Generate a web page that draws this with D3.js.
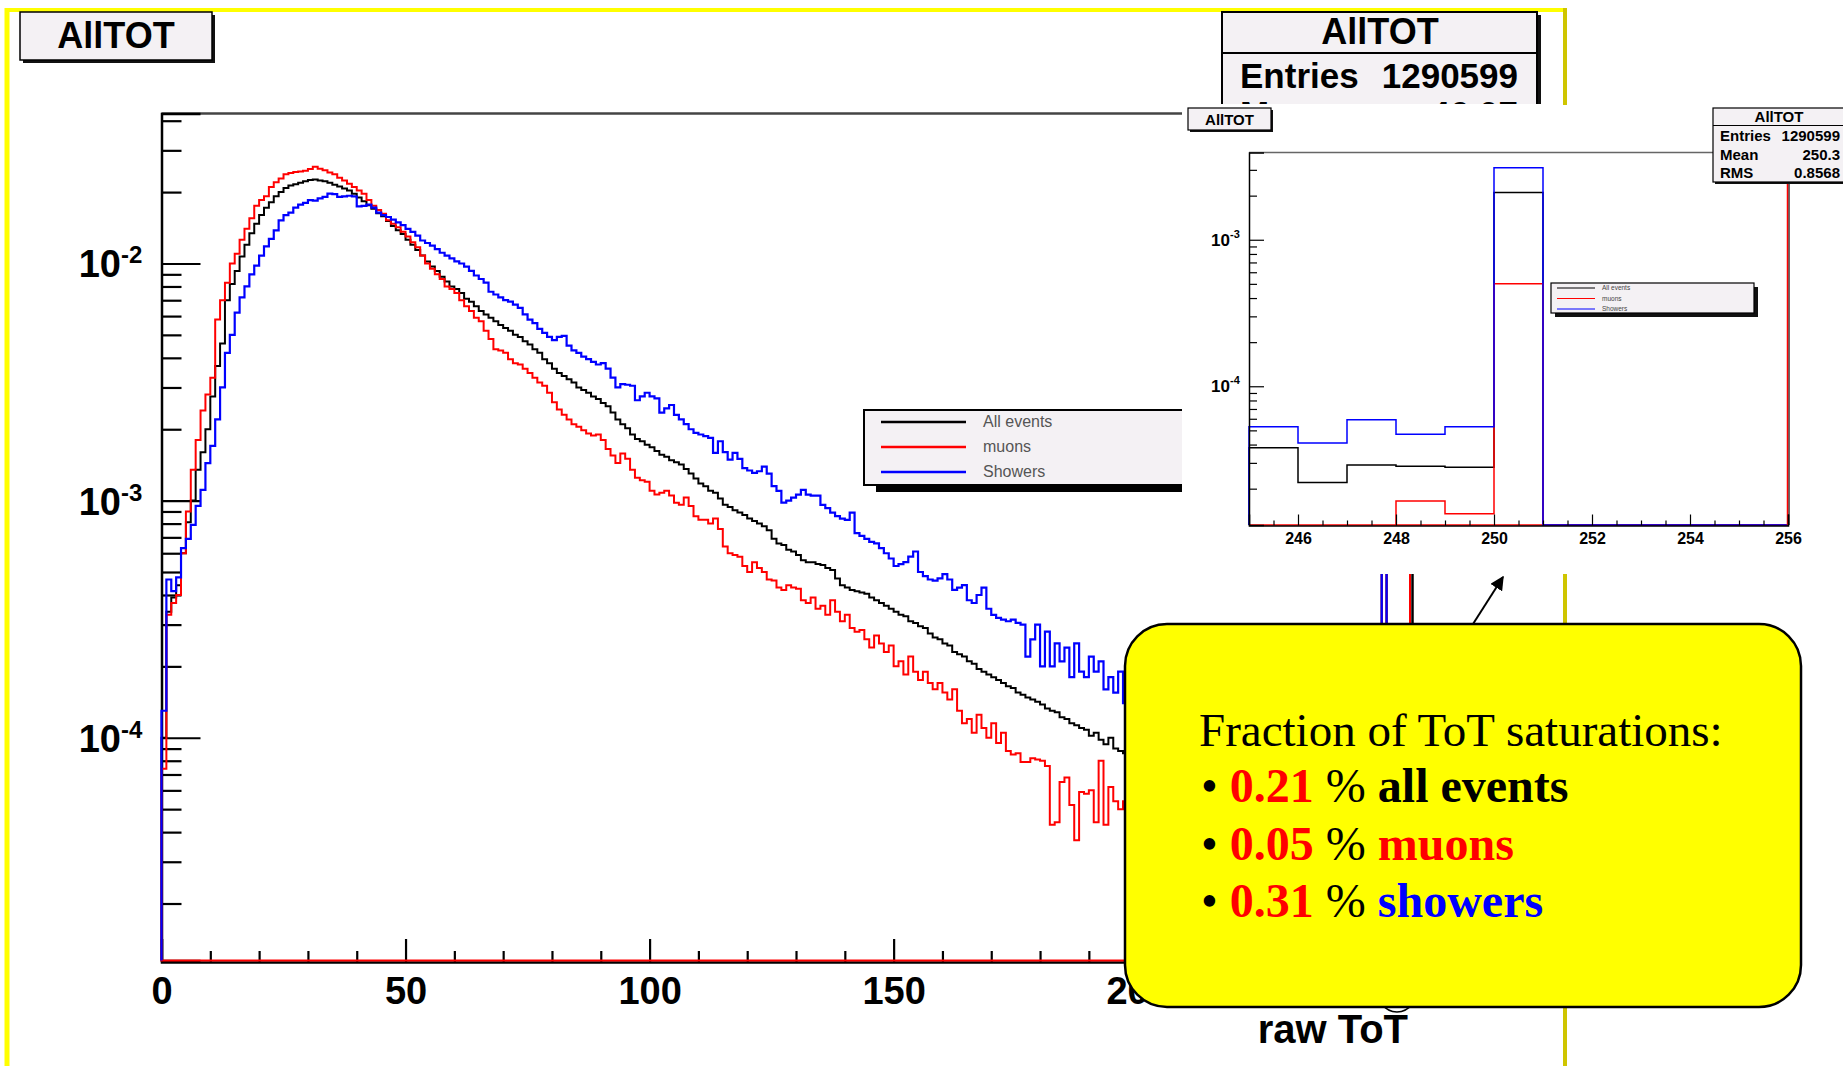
<!DOCTYPE html>
<html>
<head>
<meta charset="utf-8">
<title>AllTOT</title>
<script src="https://cdn.jsdelivr.net/npm/d3@7/dist/d3.min.js"></script>
<style>
  html, body { margin: 0; padding: 0; background: #fff; }
  svg { display: block; }
</style>
</head>
<body>
<svg id="chart" width="1843" height="1066"></svg>
<script>
// ---------------------------------------------------------------
// Normalised raw ToT spectra, one bin per ToT count (bins 0..255)
// ---------------------------------------------------------------
const allEvents = [
  1.0e-4, 3.4e-4, 3.9e-4, 4.4e-4, 6.0e-4, 8.1e-4, 1.0e-3, 1.35e-3, 1.6e-3, 2.0e-3,
  2.75e-3, 3.7e-3, 4.6e-3, 7.0e-3, 8.2e-3, 9.3e-3, 1.07e-2, 1.2e-2, 1.34e-2, 1.47e-2,
  1.6e-2, 1.72e-2, 1.81e-2, 1.92e-2, 2.0e-2, 2.08e-2, 2.13e-2, 2.16e-2, 2.19e-2, 2.22e-2,
  2.25e-2, 2.26e-2, 2.24e-2, 2.22e-2, 2.19e-2, 2.15e-2, 2.11e-2, 2.07e-2, 2.03e-2, 1.97e-2,
  1.9e-2, 1.83e-2, 1.76e-2, 1.7e-2, 1.63e-2, 1.58e-2, 1.51e-2, 1.44e-2, 1.38e-2, 1.33e-2,
  1.26e-2, 1.2e-2, 1.14e-2, 1.08e-2, 1.02e-2, 9.7e-3, 9.3e-3, 8.8e-3, 8.4e-3, 8.0e-3,
  7.8e-3, 7.5e-3, 7.1e-3, 6.9e-3, 6.6e-3, 6.3e-3, 6.1e-3, 5.9e-3, 5.7e-3, 5.5e-3,
  5.35e-3, 5.2e-3, 5.0e-3, 4.9e-3, 4.7e-3, 4.55e-3, 4.35e-3, 4.2e-3, 3.95e-3, 3.8e-3,
  3.6e-3, 3.45e-3, 3.35e-3, 3.25e-3, 3.15e-3, 3.0e-3, 2.93e-3, 2.85e-3, 2.75e-3, 2.68e-3,
  2.58e-3, 2.5e-3, 2.35e-3, 2.2e-3, 2.1e-3, 2.02e-3, 1.9e-3, 1.82e-3, 1.78e-3, 1.72e-3,
  1.68e-3, 1.62e-3, 1.56e-3, 1.53e-3, 1.48e-3, 1.45e-3, 1.42e-3, 1.36e-3, 1.3e-3, 1.24e-3,
  1.18e-3, 1.15e-3, 1.1e-3, 1.08e-3, 1.02e-3, 9.6e-4, 9.4e-4, 9.1e-4, 8.9e-4, 8.7e-4,
  8.4e-4, 8.2e-4, 8.0e-4, 7.8e-4, 7.5e-4, 6.9e-4, 6.6e-4, 6.5e-4, 6.2e-4, 6.1e-4,
  5.9e-4, 5.6e-4, 5.5e-4, 5.5e-4, 5.4e-4, 5.35e-4, 5.2e-4, 5.1e-4, 4.7e-4, 4.4e-4,
  4.3e-4, 4.2e-4, 4.15e-4, 4.1e-4, 4.05e-4, 3.9e-4, 3.8e-4, 3.7e-4, 3.6e-4, 3.5e-4,
  3.4e-4, 3.3e-4, 3.25e-4, 3.1e-4, 3.05e-4, 2.95e-4, 2.9e-4, 2.75e-4, 2.65e-4, 2.6e-4,
  2.5e-4, 2.45e-4, 2.3e-4, 2.25e-4, 2.2e-4, 2.1e-4, 2.05e-4, 1.95e-4, 1.9e-4, 1.85e-4,
  1.8e-4, 1.75e-4, 1.7e-4, 1.65e-4, 1.62e-4, 1.55e-4, 1.52e-4, 1.48e-4, 1.45e-4, 1.42e-4,
  1.38e-4, 1.33e-4, 1.3e-4, 1.28e-4, 1.22e-4, 1.2e-4, 1.15e-4, 1.13e-4, 1.1e-4, 1.08e-4,
  1.02e-4, 1.05e-4, 9.8e-5, 9.4e-5, 1.0e-4, 9.0e-5, 8.8e-5, 8.6e-5, 8.4e-5, 8.2e-5,
  8.0e-5, 7.9e-5, 7.6e-5, 7.5e-5, 7.3e-5, 7.0e-5, 6.9e-5, 6.8e-5, 6.5e-5, 6.4e-5,
  6.3e-5, 6.0e-5, 5.9e-5, 5.8e-5, 5.6e-5, 5.5e-5, 5.4e-5, 5.2e-5, 5.1e-5, 5.0e-5,
  4.9e-5, 4.8e-5, 4.7e-5, 4.6e-5, 4.5e-5, 4.4e-5, 4.4e-5, 4.2e-5, 4.2e-5, 4.1e-5,
  4.0e-5, 3.9e-5, 3.9e-5, 3.8e-5, 3.7e-5, 3.7e-5, 3.6e-5, 3.5e-5, 3.5e-5, 3.4e-5,
  3.4e-5, 3.3e-5, 3.2e-5, 3.2e-5, 3.1e-5, 3.8e-5, 2.2e-5, 2.9e-5, 2.85e-5, 2.8e-5,
  2.1e-3, 0, 0, 0, 0, 0
];

const muons = [
  7.4e-5, 3.3e-4, 3.7e-4, 4.0e-4, 6.0e-4, 9.0e-4, 1.35e-3, 1.8e-3, 2.4e-3, 2.8e-3,
  3.3e-3, 5.8e-3, 7.0e-3, 8.3e-3, 1.0e-2, 1.1e-2, 1.26e-2, 1.4e-2, 1.55e-2, 1.75e-2,
  1.85e-2, 1.92e-2, 2.1e-2, 2.2e-2, 2.28e-2, 2.38e-2, 2.41e-2, 2.43e-2, 2.44e-2, 2.46e-2,
  2.5e-2, 2.56e-2, 2.51e-2, 2.47e-2, 2.42e-2, 2.38e-2, 2.3e-2, 2.24e-2, 2.17e-2, 2.1e-2,
  2.03e-2, 1.97e-2, 1.85e-2, 1.75e-2, 1.68e-2, 1.62e-2, 1.52e-2, 1.47e-2, 1.42e-2, 1.36e-2,
  1.3e-2, 1.23e-2, 1.17e-2, 1.08e-2, 1.0e-2, 9.5e-3, 9.0e-3, 8.6e-3, 8.0e-3, 7.8e-3,
  7.5e-3, 7.0e-3, 6.6e-3, 6.3e-3, 5.9e-3, 5.7e-3, 5.2e-3, 4.8e-3, 4.35e-3, 4.3e-3,
  4.2e-3, 3.95e-3, 3.8e-3, 3.75e-3, 3.6e-3, 3.45e-3, 3.3e-3, 3.15e-3, 3.05e-3, 2.85e-3,
  2.6e-3, 2.42e-3, 2.3e-3, 2.2e-3, 2.1e-3, 2.05e-3, 1.98e-3, 1.92e-3, 1.88e-3, 1.9e-3,
  1.8e-3, 1.65e-3, 1.55e-3, 1.44e-3, 1.58e-3, 1.5e-3, 1.35e-3, 1.25e-3, 1.22e-3, 1.2e-3,
  1.1e-3, 1.06e-3, 1.08e-3, 1.1e-3, 1.05e-3, 9.8e-4, 9.6e-4, 1.03e-3, 9.5e-4, 8.6e-4,
  8.3e-4, 8.3e-4, 8.0e-4, 8.4e-4, 7.6e-4, 6.4e-4, 6.0e-4, 5.9e-4, 5.8e-4, 5.3e-4,
  5.0e-4, 5.5e-4, 5.2e-4, 5.0e-4, 4.65e-4, 4.6e-4, 4.3e-4, 4.2e-4, 4.4e-4, 4.3e-4,
  4.25e-4, 3.8e-4, 3.7e-4, 3.9e-4, 3.5e-4, 3.6e-4, 3.3e-4, 3.8e-4, 3.4e-4, 3.1e-4,
  3.3e-4, 2.9e-4, 2.8e-4, 2.85e-4, 2.6e-4, 2.4e-4, 2.7e-4, 2.5e-4, 2.3e-4, 2.45e-4,
  2.0e-4, 2.1e-4, 1.85e-4, 2.2e-4, 1.9e-4, 1.75e-4, 1.9e-4, 1.7e-4, 1.6e-4, 1.7e-4,
  1.55e-4, 1.45e-4, 1.6e-4, 1.3e-4, 1.15e-4, 1.2e-4, 1.05e-4, 1.25e-4, 1.1e-4, 1.0e-4,
  1.15e-4, 9.5e-5, 1.05e-4, 8.8e-5, 8.5e-5, 8.6e-5, 7.9e-5, 7.9e-5, 8.2e-5, 8.1e-5,
  8.0e-5, 7.6e-5, 4.3e-5, 4.4e-5, 6.5e-5, 6.8e-5, 5.2e-5, 3.7e-5, 5.9e-5, 5.8e-5,
  6.0e-5, 4.4e-5, 8.0e-5, 4.3e-5, 6.2e-5, 5.4e-5, 5.0e-5, 5.4e-5, 4.8e-5, 5.2e-5,
  4.1e-5, 4.6e-5, 3.9e-5, 4.3e-5, 3.6e-5, 4.0e-5, 3.4e-5, 3.8e-5, 3.2e-5, 3.5e-5,
  3.0e-5, 3.3e-5, 2.8e-5, 3.1e-5, 2.7e-5, 2.9e-5, 2.5e-5, 2.8e-5, 2.4e-5, 2.6e-5,
  2.3e-5, 2.5e-5, 2.2e-5, 2.4e-5, 2.1e-5, 2.3e-5, 2.0e-5, 2.2e-5, 1.9e-5, 2.1e-5,
  1.8e-5, 2.0e-5, 1.7e-5, 1.9e-5, 1.6e-5, 1.8e-5, 1.6e-5, 1.7e-5, 1.5e-5, 1.6e-5,
  1.4e-5, 1.6e-5, 1.3e-5, 1.5e-5, 1.3e-5, 0, 0, 0, 1.65e-5, 1.35e-5,
  5.0e-4, 0, 0, 0, 0, 0
];

const showers = [
  1.3e-4, 4.65e-4, 4.15e-4, 4.75e-4, 6.3e-4, 6.9e-4, 7.9e-4, 9.5e-4, 1.11e-3, 1.44e-3,
  1.7e-3, 2.2e-3, 3.0e-3, 4.2e-3, 5.0e-3, 6.2e-3, 7.2e-3, 8.0e-3, 9.0e-3, 9.8e-3,
  1.08e-2, 1.18e-2, 1.27e-2, 1.38e-2, 1.52e-2, 1.6e-2, 1.64e-2, 1.72e-2, 1.77e-2, 1.8e-2,
  1.85e-2, 1.84e-2, 1.88e-2, 1.91e-2, 1.97e-2, 1.96e-2, 1.91e-2, 1.92e-2, 1.93e-2, 1.92e-2,
  1.74e-2, 1.75e-2, 1.77e-2, 1.72e-2, 1.64e-2, 1.6e-2, 1.57e-2, 1.53e-2, 1.49e-2, 1.45e-2,
  1.4e-2, 1.36e-2, 1.31e-2, 1.25e-2, 1.22e-2, 1.19e-2, 1.15e-2, 1.11e-2, 1.08e-2, 1.05e-2,
  1.02e-2, 1.0e-2, 9.7e-3, 9.3e-3, 8.9e-3, 8.6e-3, 8.3e-3, 7.6e-3, 7.4e-3, 7.2e-3,
  7.0e-3, 6.9e-3, 6.7e-3, 6.5e-3, 6.1e-3, 5.8e-3, 5.6e-3, 5.3e-3, 5.1e-3, 4.9e-3,
  4.75e-3, 4.9e-3, 4.95e-3, 4.5e-3, 4.3e-3, 4.2e-3, 4.05e-3, 3.95e-3, 3.85e-3, 3.75e-3,
  3.8e-3, 3.6e-3, 3.3e-3, 3.0e-3, 3.1e-3, 3.08e-3, 3.05e-3, 2.65e-3, 2.75e-3, 2.85e-3,
  2.75e-3, 2.7e-3, 2.35e-3, 2.45e-3, 2.53e-3, 2.3e-3, 2.2e-3, 2.1e-3, 2.0e-3, 1.93e-3,
  1.9e-3, 1.87e-3, 1.84e-3, 1.59e-3, 1.78e-3, 1.6e-3, 1.49e-3, 1.59e-3, 1.5e-3, 1.37e-3,
  1.34e-3, 1.31e-3, 1.33e-3, 1.39e-3, 1.3e-3, 1.15e-3, 1.1e-3, 9.8e-4, 1.0e-3, 1.03e-3,
  1.06e-3, 1.11e-3, 1.06e-3, 1.05e-3, 1.05e-3, 9.6e-4, 9.3e-4, 8.9e-4, 8.6e-4, 8.4e-4,
  8.3e-4, 8.9e-4, 7.3e-4, 7.1e-4, 6.9e-4, 6.7e-4, 6.6e-4, 6.3e-4, 6.0e-4, 5.7e-4,
  5.3e-4, 5.4e-4, 5.5e-4, 5.8e-4, 6.1e-4, 5.0e-4, 4.8e-4, 4.65e-4, 4.6e-4, 4.7e-4,
  4.9e-4, 4.65e-4, 4.2e-4, 4.3e-4, 4.4e-4, 3.8e-4, 3.7e-4, 4.0e-4, 4.3e-4, 3.5e-4,
  3.3e-4, 3.2e-4, 3.15e-4, 3.1e-4, 3.15e-4, 3.05e-4, 3.0e-4, 2.2e-4, 2.6e-4, 3.0e-4,
  2.0e-4, 2.8e-4, 2.0e-4, 2.5e-4, 2.1e-4, 2.4e-4, 1.8e-4, 2.5e-4, 1.9e-4, 1.8e-4,
  2.2e-4, 1.9e-4, 2.1e-4, 1.6e-4, 1.8e-4, 1.55e-4, 1.9e-4, 1.4e-4, 1.7e-4, 1.45e-4,
  1.6e-4, 1.35e-4, 1.5e-4, 1.3e-4, 1.4e-4, 1.25e-4, 1.3e-4, 1.15e-4, 1.25e-4, 1.1e-4,
  1.2e-4, 1.05e-4, 1.1e-4, 1.0e-4, 1.05e-4, 9.5e-5, 1.0e-4, 9.0e-5, 9.5e-5, 8.6e-5,
  9.0e-5, 8.2e-5, 8.6e-5, 7.9e-5, 8.2e-5, 7.6e-5, 7.8e-5, 7.3e-5, 7.5e-5, 7.0e-5,
  7.2e-5, 6.7e-5, 6.9e-5, 6.5e-5, 6.6e-5, 6.2e-5, 6.4e-5, 6.0e-5, 6.1e-5, 5.8e-5,
  5.9e-5, 5.6e-5, 5.7e-5, 5.4e-5, 5.5e-5, 5.3e-5, 4.1e-5, 5.9e-5, 4.7e-5, 5.3e-5,
  3.1e-3, 0, 0, 0, 0, 0
];

const seriesLabels = ["All events", "muons", "Showers"];
const calloutNames = ["all events", "muons", "showers"];
const mainXTickValues = [0, 50, 100, 150, 200, 250];
const mainXLabelValues = [0, 50, 100, 150, 200];
const insetXTickValues = [246, 248, 250, 252, 254, 256];
const histTitle = "AllTOT";
const xTitle = "raw ToT";
const mainStatsRows = [["Entries", "1290599"], ["Mean", "46.07"]];
const insetStatsRows = [["Entries", "1290599"], ["Mean", "250.3"], ["RMS", "0.8568"]];
const saturationBin = 250;
const calloutHeading = "Fraction of ToT saturations:";

// ---------------------------------------------------------------
const series = [
  { values: allEvents, color: "#000000" },
  { values: muons,     color: "#ff0000" },
  { values: showers,   color: "#0000ff" }
];
const SANS = "'Liberation Sans', Arial, Helvetica, sans-serif";
const SERIF = "'Liberation Serif', 'Times New Roman', serif";
const PANEL = "#f4f1f4";

const svg = d3.select("#chart");
const defs = svg.append("defs");
svg.append("rect").attr("width", 1843).attr("height", 1066).attr("fill", "#fff");

// slide frame
svg.append("line").attr("x1", 5).attr("x2", 1567).attr("y1", 10).attr("y2", 10)
  .attr("stroke", "#ffff00").attr("stroke-width", 4);
svg.append("line").attr("x1", 7).attr("x2", 7).attr("y1", 8).attr("y2", 1066)
  .attr("stroke", "#ffff00").attr("stroke-width", 5);
svg.append("line").attr("x1", 1565).attr("x2", 1565).attr("y1", 8).attr("y2", 1066)
  .attr("stroke", "#cfc500").attr("stroke-width", 4);

// helper: framed label box with drop shadow
function panel(g, x, y, w, h, shadow, sw) {
  g.append("rect").attr("x", x + shadow).attr("y", y + shadow).attr("width", w).attr("height", h)
    .attr("fill", "#111");
  g.append("rect").attr("x", x).attr("y", y).attr("width", w).attr("height", h)
    .attr("fill", PANEL).attr("stroke", "#000").attr("stroke-width", sw);
}

// step outline of a histogram between bins lo..hi
function stepPoints(values, x, y, lo, hi) {
  const yMin = y.domain()[0];
  const yb = y.range()[0];
  const yy = v => (v > yMin ? y(v) : yb);
  const pts = [[x(lo), yb]];
  for (let i = lo; i < hi; i++) {
    const yv = yy(values[i]);
    pts.push([x(i), yv], [x(i + 1), yv]);
  }
  pts.push([x(hi), yb]);
  return pts;
}

// ================= main histogram =================
const xMain = d3.scaleLinear().domain([0, 256]).range([161.5, 1411]);
const yMain = d3.scaleLog().domain([1.15e-5, 0.0429]).range([960.5, 113.5]);

// title box
const tb = svg.append("g");
panel(tb, 20, 12, 192, 48, 3, 1.5);
tb.append("text").attr("x", 116).attr("y", 48).attr("text-anchor", "middle")
  .attr("font-family", SANS).attr("font-weight", "bold").attr("font-size", 36).text(histTitle);

// statistics box of the main histogram; only its upper part stays uncovered
defs.append("clipPath").attr("id", "clipStats").append("rect")
  .attr("x", 1200).attr("y", 0).attr("width", 400).attr("height", 104);
const sb = svg.append("g").attr("clip-path", "url(#clipStats)");
sb.append("rect").attr("x", 1226).attr("y", 15).attr("width", 315).attr("height", 140).attr("fill", "#111");
sb.append("rect").attr("x", 1222).attr("y", 12).attr("width", 315).attr("height", 140)
  .attr("fill", PANEL).attr("stroke", "#000").attr("stroke-width", 2);
sb.append("line").attr("x1", 1222).attr("x2", 1537).attr("y1", 53).attr("y2", 53)
  .attr("stroke", "#000").attr("stroke-width", 2);
sb.append("text").attr("x", 1380).attr("y", 44).attr("text-anchor", "middle")
  .attr("font-family", SANS).attr("font-weight", "bold").attr("font-size", 36).text(histTitle);
mainStatsRows.forEach((r, i) => {
  const yy = 88 + i * 38;
  sb.append("text").attr("x", 1240).attr("y", yy).attr("font-family", SANS)
    .attr("font-weight", "bold").attr("font-size", 35).text(r[0]);
  sb.append("text").attr("x", 1518).attr("y", yy).attr("text-anchor", "end").attr("font-family", SANS)
    .attr("font-weight", "bold").attr("font-size", 35).text(r[1]);
});

const main = svg.append("g");
const [mx0, mx1] = xMain.range();
const [myb, myt] = yMain.range();

defs.append("clipPath").attr("id", "clipMain").append("rect")
  .attr("x", mx0 - 2).attr("y", myt - 2).attr("width", mx1 - mx0 + 4).attr("height", myb - myt + 4);

// frame top and right edge
main.append("line").attr("x1", mx0).attr("x2", mx1).attr("y1", myt).attr("y2", myt)
  .attr("stroke", "#444").attr("stroke-width", 2.5);
main.append("line").attr("x1", mx1 + 1.5).attr("x2", mx1 + 1.5).attr("y1", myt).attr("y2", myb + 1.5)
  .attr("stroke", "#000").attr("stroke-width", 2.5);

// x axis: minor ticks every 10, major every 50
const gxMinor = main.append("g").attr("transform", `translate(0,${myb + 1.5})`)
  .call(d3.axisBottom(xMain).tickValues(d3.range(0, 257, 10).filter(v => v % 50 !== 0))
    .tickSize(-11).tickFormat(""));
gxMinor.select(".domain").remove();
const gxMajor = main.append("g").attr("transform", `translate(0,${myb + 1.5})`)
  .call(d3.axisBottom(xMain).tickValues(mainXTickValues).tickSize(-23).tickFormat(""));
gxMajor.select(".domain").attr("stroke-width", 2.5);
[gxMinor, gxMajor].forEach(g => g.selectAll(".tick line").attr("stroke-width", 2.2));
const gxLabels = main.append("g").attr("transform", `translate(0,${myb + 1.5})`)
  .call(d3.axisBottom(xMain).tickValues(mainXLabelValues).tickSize(0).tickPadding(15)
    .tickFormat(d3.format("d")));
gxLabels.select(".domain").remove();
gxLabels.selectAll("text").attr("font-family", SANS).attr("font-weight", "bold")
  .attr("font-size", 38).attr("fill", "#000");

// y axis: log ticks
const yTicks = yMain.ticks();
const isDecade = v => Math.abs(Math.log10(v) - Math.round(Math.log10(v))) < 1e-9;
const gyMinor = main.append("g").attr("transform", `translate(${mx0},0)`)
  .call(d3.axisLeft(yMain).tickValues(yTicks.filter(v => !isDecade(v))).tickSize(-20).tickFormat(""));
gyMinor.select(".domain").remove();
const decadesMain = yTicks.filter(isDecade);
const gyMajor = main.append("g").attr("transform", `translate(${mx0},0)`)
  .call(d3.axisLeft(yMain).tickValues(decadesMain).tickSize(-39).tickFormat(""));
gyMajor.select(".domain").attr("stroke-width", 2.5);
[gyMinor, gyMajor].forEach(g => g.selectAll(".tick line").attr("stroke-width", 2.2));
decadesMain.forEach(v => {
  const yy = yMain(v);
  main.append("text").attr("x", 121).attr("y", yy + 14).attr("text-anchor", "end")
    .attr("font-family", SANS).attr("font-weight", "bold").attr("font-size", 38).text("10");
  main.append("text").attr("x", 121).attr("y", yy).attr("font-family", SANS)
    .attr("font-weight", "bold").attr("font-size", 24).text(String(Math.round(Math.log10(v))));
});

// histograms
const histMain = main.append("g").attr("clip-path", "url(#clipMain)");
series.forEach((s, k) => {
  const pts = stepPoints(s.values, xMain, yMain, 0, 256);
  histMain.append("path").attr("d", d3.line()(pts) + (k === 1 ? "Z" : ""))
    .attr("fill", "none").attr("stroke", s.color).attr("stroke-width", k === 2 ? 2.2 : 2)
    .attr("stroke-linejoin", "miter");
});
histMain.append("line").attr("x1", mx1 - 1).attr("x2", mx1 - 1).attr("y1", myt).attr("y2", myb)
  .attr("stroke", "#ff0000").attr("stroke-width", 2);

// legend
const lg = main.append("g");
lg.append("rect").attr("x", 876).attr("y", 484).attr("width", 560).attr("height", 8).attr("fill", "#000");
lg.append("rect").attr("x", 864).attr("y", 410).attr("width", 570).attr("height", 75)
  .attr("fill", PANEL).attr("stroke", "#000").attr("stroke-width", 2);
series.forEach((s, i) => {
  const yy = 422 + i * 25;
  lg.append("line").attr("x1", 881).attr("x2", 966).attr("y1", yy).attr("y2", yy)
    .attr("stroke", s.color).attr("stroke-width", 2.5);
  lg.append("text").attr("x", 983).attr("y", yy + 5).attr("font-family", SANS)
    .attr("font-size", 16).attr("fill", "#555").text(seriesLabels[i]);
});

// x axis title
svg.append("text").attr("x", 1408).attr("y", 1043).attr("text-anchor", "end")
  .attr("font-family", SANS).attr("font-weight", "bold").attr("font-size", 40).text(xTitle);

// ================= zoomed view of the last bins =================
const xIns = d3.scaleLinear().domain([245, 256]).range([1249, 1788]);
const yIns = d3.scaleLog().domain([1.13e-5, 3.94e-3]).range([525, 152.5]);
const [ix0, ix1] = xIns.range();
const [iyb, iyt] = yIns.range();

const ins = svg.append("g");
ins.append("rect").attr("x", 1182).attr("y", 105).attr("width", 661).attr("height", 469).attr("fill", "#fff");
defs.append("clipPath").attr("id", "clipIns").append("rect")
  .attr("x", ix0 - 1).attr("y", iyt - 1).attr("width", ix1 - ix0 + 2).attr("height", iyb - iyt + 2);

ins.append("line").attr("x1", ix0).attr("x2", ix1).attr("y1", iyt).attr("y2", iyt)
  .attr("stroke", "#666").attr("stroke-width", 1.5);
ins.append("line").attr("x1", ix1 + 1).attr("x2", ix1 + 1).attr("y1", iyt).attr("y2", iyb)
  .attr("stroke", "#000").attr("stroke-width", 1.2);

const histIns = ins.append("g").attr("clip-path", "url(#clipIns)");
series.forEach((s, k) => {
  const pts = stepPoints(s.values, xIns, yIns, 245, 256);
  histIns.append("path").attr("d", d3.line()(pts) + (k === 1 ? "Z" : ""))
    .attr("fill", "none").attr("stroke", s.color).attr("stroke-width", 1.5);
});
histIns.append("line").attr("x1", ix1 - 0.5).attr("x2", ix1 - 0.5).attr("y1", iyt).attr("y2", iyb)
  .attr("stroke", "#ff0000").attr("stroke-width", 1.5);

const gixMinor = ins.append("g").attr("transform", `translate(0,${iyb + 0.5})`)
  .call(d3.axisBottom(xIns).tickValues(d3.range(245.5, 256, 0.5).filter(v => v % 2 !== 0))
    .tickSize(-5).tickFormat(""));
gixMinor.select(".domain").remove();
const gixMajor = ins.append("g").attr("transform", `translate(0,${iyb + 0.5})`)
  .call(d3.axisBottom(xIns).tickValues(insetXTickValues).tickSize(-11).tickPadding(7)
    .tickFormat(d3.format("d")));
gixMajor.select(".domain").attr("stroke-width", 1.5);
[gixMinor, gixMajor].forEach(g => g.selectAll(".tick line").attr("stroke-width", 1.2));
gixMajor.selectAll("text").attr("font-family", SANS).attr("font-weight", "bold")
  .attr("font-size", 16).attr("fill", "#000");

const iyTicks = yIns.ticks();
const giyMinor = ins.append("g").attr("transform", `translate(${ix0},0)`)
  .call(d3.axisLeft(yIns).tickValues(iyTicks.filter(v => !isDecade(v))).tickSize(-8).tickFormat(""));
giyMinor.select(".domain").remove();
const decadesIns = iyTicks.filter(isDecade);
const giyMajor = ins.append("g").attr("transform", `translate(${ix0},0)`)
  .call(d3.axisLeft(yIns).tickValues(decadesIns).tickSize(-15).tickFormat(""));
giyMajor.select(".domain").attr("stroke-width", 1.5);
[giyMinor, giyMajor].forEach(g => g.selectAll(".tick line").attr("stroke-width", 1.2));
decadesIns.forEach(v => {
  const yy = yIns(v);
  ins.append("text").attr("x", 1230).attr("y", yy + 6).attr("text-anchor", "end")
    .attr("font-family", SANS).attr("font-weight", "bold").attr("font-size", 17).text("10");
  ins.append("text").attr("x", 1230).attr("y", yy - 2).attr("font-family", SANS)
    .attr("font-weight", "bold").attr("font-size", 11).text(String(Math.round(Math.log10(v))));
});

// zoomed view: title box
const itb = ins.append("g");
panel(itb, 1188, 108, 83, 22, 2, 1.2);
itb.append("text").attr("x", 1229.5).attr("y", 125).attr("text-anchor", "middle")
  .attr("font-family", SANS).attr("font-weight", "bold").attr("font-size", 15).text(histTitle);

// zoomed view: legend
const ilg = ins.append("g");
panel(ilg, 1551, 283, 203, 30, 4, 1.2);
series.forEach((s, i) => {
  const yy = 288 + i * 10.5;
  ilg.append("line").attr("x1", 1557).attr("x2", 1595).attr("y1", yy).attr("y2", yy)
    .attr("stroke", s.color).attr("stroke-width", 1.2);
  ilg.append("text").attr("x", 1602).attr("y", yy + 2.2).attr("font-family", SANS)
    .attr("font-size", 6.5).attr("fill", "#444").text(seriesLabels[i]);
});

// zoomed view: statistics box
const isb = ins.append("g");
isb.append("rect").attr("x", 1715).attr("y", 110).attr("width", 140).attr("height", 74).attr("fill", "#111");
isb.append("rect").attr("x", 1713).attr("y", 108).attr("width", 140).attr("height", 74)
  .attr("fill", PANEL).attr("stroke", "#000").attr("stroke-width", 1.2);
isb.append("line").attr("x1", 1713).attr("x2", 1843).attr("y1", 125.5).attr("y2", 125.5)
  .attr("stroke", "#000").attr("stroke-width", 1.2);
isb.append("text").attr("x", 1779).attr("y", 122).attr("text-anchor", "middle")
  .attr("font-family", SANS).attr("font-weight", "bold").attr("font-size", 15).text(histTitle);
insetStatsRows.forEach((r, i) => {
  const yy = 141 + i * 18.5;
  isb.append("text").attr("x", 1720).attr("y", yy).attr("font-family", SANS)
    .attr("font-weight", "bold").attr("font-size", 15).text(r[0]);
  isb.append("text").attr("x", 1840).attr("y", yy).attr("text-anchor", "end").attr("font-family", SANS)
    .attr("font-weight", "bold").attr("font-size", 15).text(r[1]);
});

// ================= annotations =================
defs.append("marker").attr("id", "head").attr("viewBox", "0 0 10 10").attr("refX", 9).attr("refY", 5)
  .attr("markerWidth", 7).attr("markerHeight", 7).attr("orient", "auto")
  .append("path").attr("d", "M0,0L10,5L0,10Z").attr("fill", "#000");
svg.append("line").attr("x1", 1473).attr("y1", 624).attr("x2", 1503).attr("y2", 577)
  .attr("stroke", "#000").attr("stroke-width", 2).attr("marker-end", "url(#head)");

svg.append("ellipse").attr("cx", 1397).attr("cy", 985).attr("rx", 22).attr("ry", 27)
  .attr("fill", "none").attr("stroke", "#000").attr("stroke-width", 1.5);

const cb = svg.append("g");
cb.append("rect").attr("x", 1125).attr("y", 624).attr("width", 676).attr("height", 383)
  .attr("rx", 42).attr("ry", 42).attr("fill", "#ffff00").attr("stroke", "#000").attr("stroke-width", 2.5);
cb.append("text").attr("x", 1199).attr("y", 746).attr("font-family", SERIF)
  .attr("font-size", 47).attr("fill", "#000").text(calloutHeading);
const calloutColors = ["#000000", "#ff0000", "#0000ff"];
series.forEach((s, i) => {
  const pct = (s.values[saturationBin] * 100).toFixed(2);
  const t = cb.append("text").attr("x", 1201).attr("y", 802 + i * 57.5)
    .attr("font-family", SERIF).attr("font-size", 48).attr("xml:space", "preserve");
  t.append("tspan").attr("fill", "#000").text("\u2022 ");
  t.append("tspan").attr("fill", "#ff0000").attr("font-weight", "bold").text(pct);
  t.append("tspan").attr("fill", "#000").text(" % ");
  t.append("tspan").attr("fill", calloutColors[i]).attr("font-weight", "bold").text(calloutNames[i]);
});
</script>
</body>
</html>
